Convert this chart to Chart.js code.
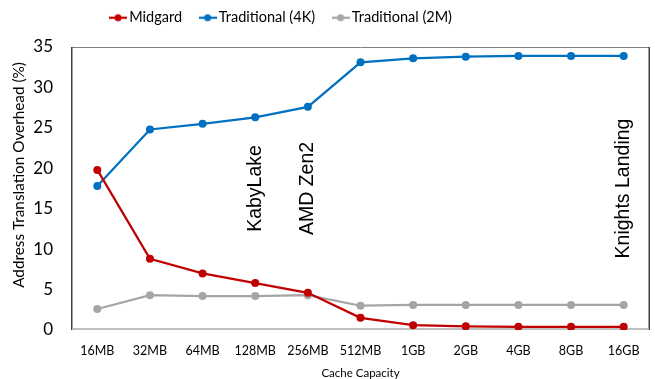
<!DOCTYPE html>
<html>
<head>
<meta charset="utf-8">
<script src="https://cdn.jsdelivr.net/npm/chart.js@4/dist/chart.umd.min.js"></script>
<style>
  html, body { margin: 0; padding: 0; background: #fff; }
  #wrap { width: 655px; height: 379px; position: relative; }
</style>
</head>
<body>
<div id="wrap"><canvas id="c"></canvas></div>
<script>
// Cache capacities on the x axis
const capacities = ['16MB', '32MB', '64MB', '128MB', '256MB', '512MB', '1GB', '2GB', '4GB', '8GB', '16GB'];

// Address translation overhead (%) per scheme
const midgard       = [19.8, 8.8, 7.0, 5.8, 4.6, 1.5, 0.6, 0.45, 0.4, 0.4, 0.4];
const traditional4K = [17.8, 24.8, 25.5, 26.3, 27.6, 33.1, 33.6, 33.8, 33.9, 33.9, 33.9];
const traditional2M = [2.6, 4.3, 4.2, 4.2, 4.3, 3.0, 3.1, 3.1, 3.1, 3.1, 3.1];

// Processor labels placed at their cache capacity
const processorLabels = ['KabyLake', 'AMD Zen2', 'Knights Landing'];
const processorAt     = ['128MB', '256MB', '16GB'];
const processorLevel  = 17.5;

const yTicks = [0, 5, 10, 15, 20, 25, 30, 35];
const yTitle = 'Address Translation Overhead (%)';
const xTitle = 'Cache Capacity';

const UI_FONT = 'Lato, "Open Sans", sans-serif';

// Line-with-dot marker used in the legend
function legendMarker(color) {
  const cv = document.createElement('canvas');
  cv.width = 18; cv.height = 10;
  const g = cv.getContext('2d');
  g.strokeStyle = color; g.lineWidth = 2.25;
  g.beginPath(); g.moveTo(0, 5); g.lineTo(18, 5); g.stroke();
  g.fillStyle = color;
  g.beginPath(); g.arc(9, 5, 3.5, 0, Math.PI * 2); g.fill();
  return cv;
}

const series = [
  { label: 'Midgard', data: midgard, color: '#C00000' },
  { label: 'Traditional (4K)', data: traditional4K, color: '#0070C0' },
  { label: 'Traditional (2M)', data: traditional2M, color: '#A5A5A5' }
];

// Frame around the plotting area
const framePlugin = {
  id: 'frame',
  beforeDatasetsDraw(chart) {
    const { ctx, chartArea: a } = chart;
    ctx.save();
    ctx.lineWidth = 1;
    ctx.strokeStyle = '#7F7F7F';
    ctx.beginPath();
    ctx.moveTo(a.left, a.top + 0.5);
    ctx.lineTo(a.right, a.top + 0.5);
    ctx.stroke();
    ctx.strokeStyle = '#404040';
    ctx.lineWidth = 1.5;
    ctx.beginPath();
    ctx.moveTo(a.left + 0.75, a.bottom);
    ctx.lineTo(a.left + 0.75, a.top);
    ctx.moveTo(a.right - 0.75, a.top);
    ctx.lineTo(a.right - 0.75, a.bottom);
    ctx.stroke();
    ctx.strokeStyle = '#BFBFBF';
    ctx.lineWidth = 2;
    ctx.beginPath();
    ctx.moveTo(a.left + 1.5, a.bottom - 1);
    ctx.lineTo(a.right - 1.5, a.bottom - 1);
    ctx.stroke();
    ctx.restore();
  }
};

// Vertical y-axis title, a little above the plot's middle
const yTitlePlugin = {
  id: 'yTitle',
  afterDraw(chart) {
    const { ctx } = chart;
    ctx.save();
    ctx.fillStyle = '#000';
    ctx.font = '15.3px ' + UI_FONT;
    ctx.textAlign = 'center';
    ctx.textBaseline = 'middle';
    ctx.translate(19, 175);
    ctx.rotate(-Math.PI / 2);
    ctx.fillText(yTitle, 0, 0);
    ctx.restore();
  }
};

// Vertical processor names
const processorPlugin = {
  id: 'processors',
  afterDatasetsDraw(chart) {
    const { ctx, scales: { x, y } } = chart;
    ctx.save();
    ctx.fillStyle = '#000';
    ctx.font = '19.5px "Liberation Sans", Arial, sans-serif';
    ctx.textAlign = 'center';
    ctx.textBaseline = 'middle';
    processorLabels.forEach((txt, i) => {
      const px = x.getPixelForValue(capacities.indexOf(processorAt[i]));
      const py = y.getPixelForValue(processorLevel);
      ctx.save();
      ctx.translate(px, py);
      ctx.rotate(-Math.PI / 2);
      ctx.fillText(txt, 0, 0);
      ctx.restore();
    });
    ctx.restore();
  }
};

// Legend sits up and to the left of the plot's centre
const legendShift = {
  id: 'legendShift',
  afterLayout(chart) {
    const lg = chart.legend;
    lg.top -= 12; lg.bottom -= 12;
    lg.left -= 42; lg.right -= 42;
  }
};

new Chart(document.getElementById('c'), {
  type: 'line',
  data: {
    labels: capacities,
    datasets: series.map(s => ({
      label: s.label,
      data: s.data,
      borderColor: s.color,
      backgroundColor: s.color,
      borderWidth: 2.25,
      pointRadius: 4,
      pointHoverRadius: 4,
      pointBorderWidth: 0,
      tension: 0,
      fill: false
    }))
  },
  options: {
    responsive: true,
    maintainAspectRatio: false,
    animation: false,
    devicePixelRatio: 1,
    layout: { padding: { left: 0, right: 5, top: 1, bottom: 0 } },
    plugins: {
      tooltip: { enabled: false },
      legend: {
        position: 'top',
        labels: {
          font: { family: UI_FONT, size: 14.5 },
          color: '#000',
          usePointStyle: true,
          pointStyleWidth: 8,
          padding: 21.5,
          generateLabels(chart) {
            return chart.data.datasets.map((d, i) => ({
              text: d.label,
              fillStyle: d.borderColor,
              strokeStyle: d.borderColor,
              pointStyle: legendMarker(d.borderColor),
              fontColor: '#000',
              datasetIndex: i,
              hidden: false
            }));
          }
        }
      }
    },
    scales: {
      x: {
        offset: true,
        afterFit(scale) { scale.height = 49; },
        grid: { display: false, drawTicks: false },
        border: { display: false },
        ticks: { font: { family: UI_FONT, size: 12.5 }, color: '#000', padding: 13, maxRotation: 0, autoSkip: false },
        title: { display: true, text: xTitle, font: { family: UI_FONT, size: 11.5, lineHeight: 1 }, color: '#000', padding: 0 }
      },
      y: {
        min: 0, max: 35,
        afterFit(scale) { scale.width = 71; },
        afterBuildTicks(scale) { scale.ticks = yTicks.map(v => ({ value: v })); },
        grid: { display: false, drawTicks: false },
        border: { display: false },
        ticks: { font: { family: UI_FONT, size: 17 }, color: '#000', padding: 18 },
        title: { display: false }
      }
    }
  },
  plugins: [framePlugin, processorPlugin, yTitlePlugin, legendShift]
});
</script>
</body>
</html>
